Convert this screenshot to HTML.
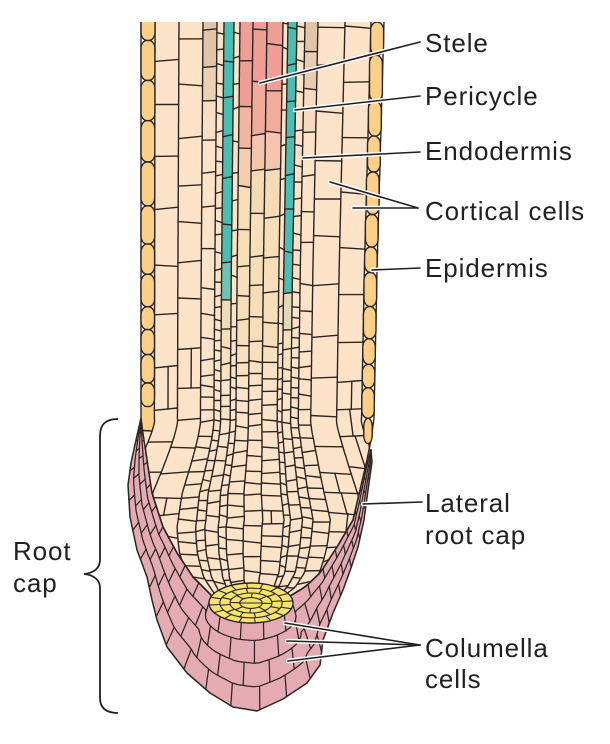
<!DOCTYPE html>
<html><head><meta charset="utf-8">
<style>
html,body{margin:0;padding:0;background:#fff;}
body{width:610px;height:744px;overflow:hidden;position:relative;}
svg{position:absolute;left:0;top:0;}
.lbl{font-family:"Liberation Sans",sans-serif;font-size:26px;fill:#231f20;letter-spacing:0.9px;}
</style></head><body>
<svg id="s" width="610" height="744" viewBox="0 0 610 744" xmlns="http://www.w3.org/2000/svg">
<defs><clipPath id="topclip"><rect x="0" y="22" width="610" height="722"/></clipPath></defs>
<polygon points="141,418 136,440 131,463 128,485 130,517 137,550 147,577 152,600 157,620 167,647 187,673 210,693 233,707 257,711 283,699 307,683 320,665 323,640 333,613 343,590 351,568 358,547 364,520 368,490 372,462 371,450" fill="#E4ABB2" stroke="#2b2523" stroke-width="1.5" stroke-linejoin="round"/>
<g id="cap"></g>
<polygon points="146,22 146,418 143,433 147,460 152,493 163,527 177,553 193,577 212,596 290,596 305,587 320,573 337,547 353,520 360,490 367,460 371,440 371,418 374,270 379,22" fill="#FDE3C8"/>
<g id="body" clip-path="url(#topclip)"></g>
<ellipse cx="251" cy="603" rx="42" ry="20" fill="#F7E46C" stroke="#2b2523" stroke-width="1.4"/>
<g id="colw"></g>
<path d="M118,419 C106,419 100,424 100,436 L100,560 C100,568 94,573 84,574 C94,575 100,580 100,588 L100,698 C100,708 106,713 118,713" fill="none" stroke="#231f20" stroke-width="1.8"/>
<g stroke="#ffffff" stroke-width="4.5" stroke-linecap="round" fill="none">
<line x1="260" y1="83" x2="420" y2="42"/>
<line x1="295" y1="110" x2="420" y2="96"/>
<line x1="303" y1="158" x2="420" y2="152"/>
<line x1="330" y1="182" x2="418" y2="208"/>
<line x1="353" y1="208" x2="418" y2="208"/>
<line x1="372" y1="270" x2="420" y2="268"/>
<line x1="363" y1="504" x2="422" y2="502"/>
<line x1="285" y1="623" x2="420" y2="645"/>
<line x1="287" y1="641" x2="420" y2="645"/>
<line x1="288" y1="661" x2="420" y2="645"/>
</g>
<g stroke="#231f20" stroke-width="1.6" stroke-linecap="round" fill="none">
<line x1="260" y1="83" x2="420" y2="42"/>
<line x1="295" y1="110" x2="420" y2="96"/>
<line x1="303" y1="158" x2="420" y2="152"/>
<line x1="330" y1="182" x2="418" y2="208"/>
<line x1="353" y1="208" x2="418" y2="208"/>
<line x1="372" y1="270" x2="420" y2="268"/>
<line x1="363" y1="504" x2="422" y2="502"/>
<line x1="285" y1="623" x2="420" y2="645"/>
<line x1="287" y1="641" x2="420" y2="645"/>
<line x1="288" y1="661" x2="420" y2="645"/>
</g>
<text class="lbl" x="425" y="52">Stele</text>
<text class="lbl" x="425" y="105">Pericycle</text>
<text class="lbl" x="425" y="160">Endodermis</text>
<text class="lbl" x="425" y="220">Cortical cells</text>
<text class="lbl" x="425" y="277">Epidermis</text>
<text class="lbl" x="425" y="512">Lateral</text>
<text class="lbl" x="425" y="544">root cap</text>
<text class="lbl" x="425" y="657">Columella</text>
<text class="lbl" x="425" y="688">cells</text>
<text class="lbl" x="13" y="560">Root</text>
<text class="lbl" x="13" y="592">cap</text>
</svg>
<script>
(function(){
var NS="http://www.w3.org/2000/svg";
function E(p,tag,a){var e=document.createElementNS(NS,tag);for(var k in a)e.setAttribute(k,a[k]);p.appendChild(e);return e;}
var seed=987654;function R(){seed=(seed*16807)%2147483647;return seed/2147483647;}
function cl(t){return t<0?0:(t>1?1:t);}
function lerp(a,b,t){return a+(b-a)*cl(t);}
function interp(P,y){if(y<=P[0][1])return P[0][0];for(var i=1;i<P.length;i++){if(y<=P[i][1]){var a=P[i-1],b=P[i];return a[0]+(b[0]-a[0])*(y-a[1])/(b[1]-a[1]);}}return P[P.length-1][0];}
var LE=[[141,22],[141,418],[143,433],[147,460],[152,493],[163,527],[177,553],[193,577],[212,596]];
var RE=[[384,22],[377,270],[374,418],[371,440],[367,460],[360,490],[353,520],[337,547],[320,573],[305,587],[290,596]];
var YB=596;
function S(y){if(y<=420)return 1;return 1+1.4*Math.pow((y-420)/176,1.3);}
function X(f,y){var l=interp(LE,y),r=interp(RE,y);var g=cl(0.5+(f-0.5)*S(y));return l+g*(r-l);}
function pts(a){return a.map(function(p){return p[0].toFixed(1)+','+p[1].toFixed(1);}).join(' ');}
var STK='#2b2523';

/* ---------- root cap ---------- */
var gc=document.getElementById('cap');
var O=[[141,418],[136,440],[131,463],[128,485],[130,517],[137,550],[147,577],[152,600],[157,620],[167,647],[187,673],[210,693],[233,707],[257,711],[283,699],[307,683],[320,665],[323,640],[333,613],[343,590],[351,568],[358,547],[364,520],[368,490],[372,462],[371,450]];
var I=LE.slice(1);
for(var a=190;a>=-10;a-=10){var r=a*Math.PI/180;I.push([251+42*Math.cos(r),603+20*Math.sin(r)]);}
for(var k=RE.length-1;k>=4;k--)I.push(RE[k]);
I.push([371,450]);
function rs(P,n){var d=[0];for(var i=1;i<P.length;i++)d.push(d[i-1]+Math.sqrt(Math.pow(P[i][0]-P[i-1][0],2)+Math.pow(P[i][1]-P[i-1][1],2)));var L=d[d.length-1],out=[],j=1;for(var k=0;k<n;k++){var t=L*k/(n-1);while(j<P.length-1&&d[j]<t)j++;var u=cl((t-d[j-1])/((d[j]-d[j-1])||1));out.push([P[j-1][0]+u*(P[j][0]-P[j-1][0]),P[j-1][1]+u*(P[j][1]-P[j-1][1])]);}return out;}
var N=110,Os=rs(O,N),Is=rs(I,N);
function Q(k,f){return [Is[k][0]+f*(Os[k][0]-Is[k][0]),Is[k][1]+f*(Os[k][1]-Is[k][1])];}
var FR=[0,0.2,0.46,0.73,1];
var gw=E(gc,'g',{stroke:STK,'stroke-width':1.25,fill:'none','stroke-linecap':'round'});
for(var b=1;b<4;b++){var L=[];for(var k=0;k<N;k++)L.push(Q(k,FR[b]));E(gw,'polyline',{points:pts(L)});}
for(var b=0;b<4;b++){var off=(b*2)%5;for(var k=3;k<N-3;k++){if((k+off)%5===0){var p=Q(k,FR[b]),q=Q(k,FR[b+1]);E(gw,'line',{x1:p[0].toFixed(1),y1:p[1].toFixed(1),x2:q[0].toFixed(1),y2:q[1].toFixed(1)});}}}

/* ---------- body cells ---------- */
var B=[141,155,179,203,217,224,234,240,253,267,283,288,297,305,318,345,371,384];
var F=B.map(function(x){return (x-141)/243;});
var T=['epi','cor','cor','tan','endo','teal','thin','stele','stele','stele','thin','teal','endo','tan','cor','cor','epi'];
var H=[38,48,46,40,17,42,30,42,44,40,30,42,17,40,46,48,38];
function sc(t,y){
 if(t==='epi'){ if(y<150)return 1; return lerp(1,0.7,(y-150)/150);}
 if(t==='cor'){ if(y<300)return 1; if(y<430)return lerp(1,0.55,(y-300)/130); return lerp(0.55,0.35,(y-430)/130);}
 if(y<200)return 1; if(y<300)return lerp(1,0.7,(y-200)/100); if(y<360)return lerp(0.7,0.34,(y-300)/60); return lerp(0.34,0.3,(y-360)/230);
}
var PE=[253,227,200],EP=[253,208,136],TN=[226,196,166],TL=[74,190,179],SP=[238,158,148],SM=[244,196,172],ST=[246,222,184];
function mix(a,b,t){t=cl(t);return [0,1,2].map(function(i){return Math.round(a[i]+(b[i]-a[i])*t);});}
function steleC(y){ if(y<90)return SP; if(y<150)return mix(SP,SM,(y-90)/60); if(y<200)return mix(SM,ST,(y-150)/50); if(y<330)return ST; return mix(ST,PE,(y-330)/60);}
function col(t,y,i){
 if(t==='stele')return steleC(y);
 if(t==='teal'){ if(y<272)return TL; return mix(TL,steleC(y),(y-272)/45);}
 if(t==='tan')return mix(TN,PE,(y-50)/80);
 if(t==='epi')return (y<(i===0?428:452))?EP:PE;
 return PE;
}
function rgb(c){return 'rgb('+c[0]+','+c[1]+','+c[2]+')';}
var gb=document.getElementById('body');
var gf=E(gb,'g',{}),gl=E(gb,'g',{stroke:STK,'stroke-width':1.4,fill:'none','stroke-linecap':'round'}),ge=E(gb,'g',{stroke:STK,'stroke-width':1.4});
for(var i=0;i<17;i++){
 var fa=F[i],fb=F[i+1],t=T[i],y=22-R()*H[i]*0.9;
 var lim=(i===0?428:452);
 while(y<YB-0.5){
  var h=Math.max(H[i]*sc(t,Math.max(y,22))*(0.78+0.44*R()),10);
  var y0=y,y1=y+h; if(YB-y1<7)y1=YB;
  var ym=(y0+y1)/2, c=rgb(col(t,ym,i));
  if(t==='epi'&&y1<lim){
   var xa=X(fa,ym),xb=X(fb,ym);
   E(ge,'rect',{x:xa.toFixed(1),y:y0.toFixed(1),width:(xb-xa).toFixed(1),height:(y1-y0).toFixed(1),rx:6,ry:8,fill:c});
  } else {
   var yy0=Math.max(y0,22);
   var wt=X(fb,yy0)-X(fa,yy0), wb=X(fb,y1)-X(fa,y1);
   if(wt>0.5||wb>0.5){
    E(gf,'polygon',{points:pts([[X(fa,yy0),yy0],[X(fb,yy0),yy0],[X(fb,ym),ym],[X(fb,y1),y1],[X(fa,y1),y1],[X(fa,ym),ym]]),fill:c,stroke:c,'stroke-width':0.6});
    if(y1<YB&&wb>1.5){var d=(R()-0.5)*2.5;E(gl,'line',{x1:X(fa,y1).toFixed(1),y1:(y1-d).toFixed(1),x2:X(fb,y1).toFixed(1),y2:(y1+d).toFixed(1)});}
    var w=X(fb,ym)-X(fa,ym);
    if(y0>330&&w>21&&R()<0.55){var fm=fa+(fb-fa)*(0.4+0.2*R());E(gl,'line',{x1:X(fm,y0).toFixed(1),y1:y0.toFixed(1),x2:X(fm,y1).toFixed(1),y2:y1.toFixed(1)});}
   }
  }
  y=y1;
 }
}
for(var i=0;i<18;i++){var L=[];for(var yy=22;yy<=YB;yy+=3)L.push([X(F[i],yy),yy]);L.push([X(F[i],YB),YB]);E(gl,'polyline',{points:pts(L)});}

/* ---------- columella (yellow) ---------- */
var gy=document.getElementById('colw');
var cx=251,cy=603,rx=42,ry=20,rings=[1,0.74,0.5,0.27],divs=[16,12,8];
var gyy=E(gy,'g',{stroke:STK,'stroke-width':1.1,fill:'none'});
for(var j=1;j<rings.length;j++)E(gyy,'ellipse',{cx:cx,cy:cy,rx:(rx*rings[j]).toFixed(1),ry:(ry*rings[j]).toFixed(1)});
for(var b2=0;b2<3;b2++){var n=divs[b2],of=R();for(var k=0;k<n;k++){var an=(k+of)/n*2*Math.PI,r0=rings[b2+1],r1=rings[b2];
 E(gyy,'line',{x1:(cx+rx*r0*Math.cos(an)).toFixed(1),y1:(cy+ry*r0*Math.sin(an)).toFixed(1),x2:(cx+rx*r1*Math.cos(an)).toFixed(1),y2:(cy+ry*r1*Math.sin(an)).toFixed(1)});}}
E(gyy,'line',{x1:cx-rx*0.27,y1:cy,x2:cx+rx*0.27,y2:cy});
})();
</script>
</body></html>
